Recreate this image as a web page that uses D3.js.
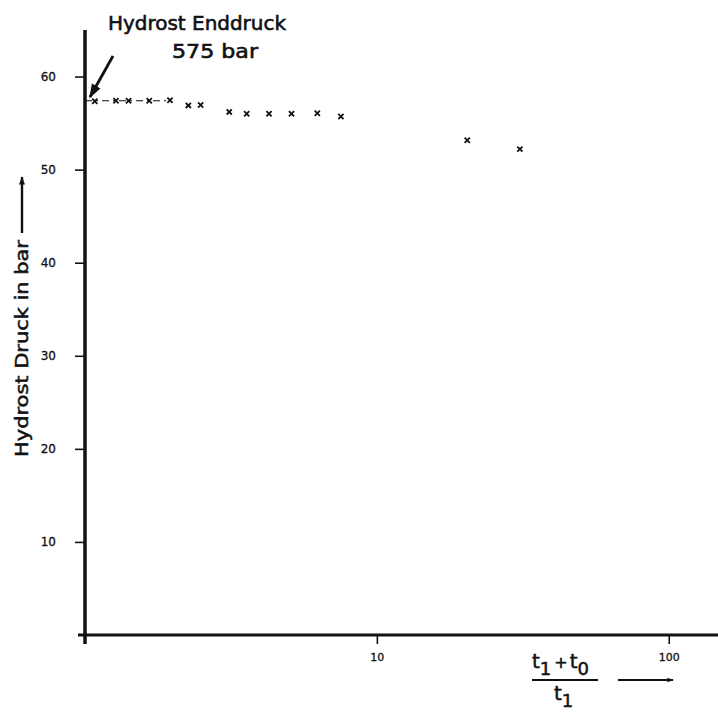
<!DOCTYPE html>
<html>
<head>
<meta charset="utf-8">
<script src="https://cdn.jsdelivr.net/npm/d3@7"></script>
<style>
  html, body { margin: 0; padding: 0; background: #fff; }
  svg { display: block; }
  text { font-family: "DejaVu Sans", sans-serif; fill: #111; }
</style>
</head>
<body>
<svg id="chart" width="718" height="712"></svg>
<script>
// ---- data ----
const ratio    = [1.08, 1.277, 1.41, 1.66, 1.955, 2.26, 2.49, 3.12, 3.58, 4.27, 5.1, 6.25, 7.53, 20.4, 30.9];
const pressure = [57.35, 57.4, 57.4, 57.4, 57.45, 56.9, 56.95, 56.2, 56.0, 56.0, 56.0, 56.05, 55.7, 53.15, 52.2];
const connectedX = [1, 1.955];
const connectedY = [57.4, 57.4];
const xTickValues = [10, 100];
const xTickLabels = ["10", "100"];
const yTickValues = [10, 20, 30, 40, 50, 60];
const yTickLabels = ["10", "20", "30", "40", "50", "60"];
const titleLines = ["Hydrost  Enddruck", "575 bar"];
const yLabel = "Hydrost  Druck  in  bar";

// ---- layout ----
const svg = d3.select("#chart");
const ink = "#111";
const x = d3.scaleLog().domain([1, 147.5]).range([85, 718]);
const y = d3.scaleLinear().domain([0, 65]).range([635, 30]);

// defs: arrowheads
const defs = svg.append("defs");
defs.append("marker").attr("id", "ah").attr("viewBox", "0 0 10 10")
  .attr("refX", 9).attr("refY", 5).attr("markerWidth", 6).attr("markerHeight", 5)
  .attr("markerUnits", "strokeWidth").attr("orient", "auto")
  .append("path").attr("d", "M0,1.5 L10,5 L0,8.5 Z").attr("fill", ink);
defs.append("marker").attr("id", "ah2").attr("viewBox", "0 0 10 10")
  .attr("refX", 9).attr("refY", 5).attr("markerWidth", 5).attr("markerHeight", 3.5)
  .attr("markerUnits", "strokeWidth").attr("orient", "auto")
  .append("path").attr("d", "M0,1.5 L10,5 L0,8.5 Z").attr("fill", ink);

// y axis
const yAxis = d3.axisLeft(y).tickValues(yTickValues)
  .tickFormat((d, i) => yTickLabels[i]).tickSize(10).tickPadding(19);
const gy = svg.append("g").attr("transform", `translate(${x(1)},0)`).call(yAxis);
gy.select(".domain").remove();
gy.selectAll(".tick line").attr("stroke", ink).attr("stroke-width", 1.6);
gy.selectAll(".tick text").style("font-size", "12px").attr("fill", ink)
  .attr("stroke", ink).attr("stroke-width", 0.3);

// x axis
const xAxis = d3.axisBottom(x).tickValues(xTickValues)
  .tickFormat((d, i) => xTickLabels[i]).tickSize(9).tickPadding(9);
const gx = svg.append("g").attr("transform", `translate(0,${y(0)})`).call(xAxis);
gx.select(".domain").remove();
gx.selectAll(".tick line").attr("stroke", ink).attr("stroke-width", 1.6);
gx.selectAll(".tick text").style("font-size", "11px").attr("fill", ink)
  .attr("stroke", ink).attr("stroke-width", 0.3);

// axis lines (thick)
svg.append("line").attr("x1", x(1)).attr("x2", x(1))
  .attr("y1", y.range()[1]).attr("y2", y(0) + 9)
  .attr("stroke", ink).attr("stroke-width", 3.5);
svg.append("line").attr("x1", x(1) - 7).attr("x2", x.range()[1])
  .attr("y1", y(0)).attr("y2", y(0))
  .attr("stroke", ink).attr("stroke-width", 3);

// connecting dash-dot line
svg.append("path")
  .datum(connectedX.map((v, i) => [v, connectedY[i]]))
  .attr("d", d3.line().x(d => x(d[0])).y(d => y(d[1])))
  .attr("fill", "none").attr("stroke", ink).attr("stroke-width", 1.2)
  .attr("stroke-dasharray", "7,4,2,4");

// data crosses
const pts = svg.append("g");
ratio.forEach((r, i) => {
  const cx = x(r), cy = y(pressure[i]), s = 2.6;
  pts.append("path")
    .attr("d", `M${cx - s},${cy - s}L${cx + s},${cy + s}M${cx - s},${cy + s}L${cx + s},${cy - s}`)
    .attr("stroke", ink).attr("stroke-width", 1.8).attr("fill", "none");
});

// title annotation
svg.append("text").attr("x", 108).attr("y", 30)
  .attr("textLength", 178).attr("lengthAdjust", "spacingAndGlyphs")
  .attr("stroke", ink).attr("stroke-width", 0.6)
  .style("font-size", "20px").text(titleLines[0]);
svg.append("text").attr("x", 172).attr("y", 58)
  .attr("textLength", 86).attr("lengthAdjust", "spacingAndGlyphs")
  .attr("stroke", ink).attr("stroke-width", 0.6)
  .style("font-size", "20px").text(titleLines[1]);
svg.append("line").attr("x1", 113).attr("y1", 56).attr("x2", 90).attr("y2", 97)
  .attr("stroke", ink).attr("stroke-width", 2.8).attr("marker-end", "url(#ah)");

// y label
svg.append("text").attr("transform", "translate(28,457) rotate(-90)")
  .attr("x", 0).attr("y", 0)
  .attr("textLength", 217).attr("lengthAdjust", "spacingAndGlyphs")
  .attr("stroke", ink).attr("stroke-width", 0.5)
  .style("font-size", "17px").text(yLabel);
svg.append("line").attr("x1", 22).attr("y1", 233).attr("x2", 22).attr("y2", 177)
  .attr("stroke", ink).attr("stroke-width", 2.4).attr("marker-end", "url(#ah2)");

// x label (fraction)
const num = svg.append("text").attr("x", 532).attr("y", 668)
  .attr("stroke", ink).attr("stroke-width", 0.5).style("font-size", "20px");
num.append("tspan").text("t");
num.append("tspan").attr("dy", 7).style("font-size", "18px").text("1");
num.append("tspan").attr("dy", -7).attr("dx", 3).style("font-size", "16px").text("+");
num.append("tspan").attr("dx", 2).text("t");
num.append("tspan").attr("dy", 7).style("font-size", "18px").text("0");
svg.append("line").attr("x1", 532).attr("x2", 598).attr("y1", 680).attr("y2", 680)
  .attr("stroke", ink).attr("stroke-width", 1.8);
const den = svg.append("text").attr("x", 554).attr("y", 700)
  .attr("stroke", ink).attr("stroke-width", 0.5).style("font-size", "20px");
den.append("tspan").text("t");
den.append("tspan").attr("dy", 7).style("font-size", "18px").text("1");
svg.append("line").attr("x1", 618).attr("x2", 673).attr("y1", 680).attr("y2", 680)
  .attr("stroke", ink).attr("stroke-width", 1.8).attr("marker-end", "url(#ah2)");
</script>
</body>
</html>
